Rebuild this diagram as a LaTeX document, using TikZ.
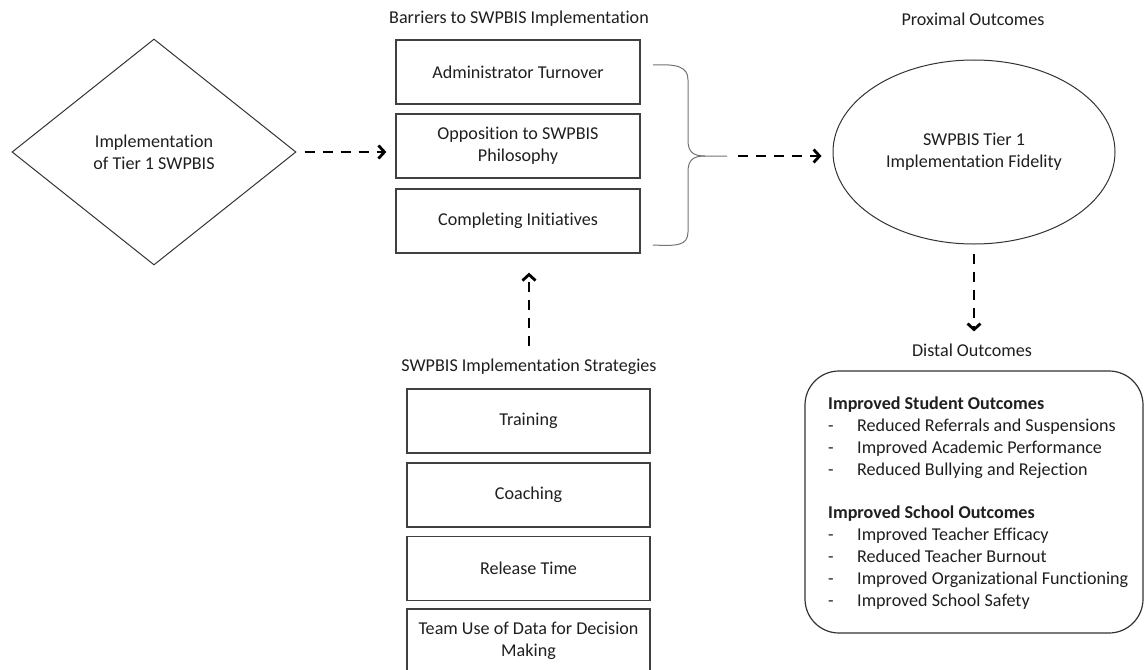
\documentclass[tikz,border=0pt]{standalone}
\usepackage{fontspec}
\setmainfont{Carlito}[Ligatures=NoCommon]
\usetikzlibrary{shapes.geometric,arrows.meta}
\begin{document}
\begin{tikzpicture}[x=1pt,y=-1pt,
  every node/.style={font=\fontsize{18.1}{21.9}\selectfont, text=black!88},
  stepbox/.style={draw=black!75, line width=1.3pt, minimum width=244pt,
    minimum height=64pt, inner sep=0pt, align=center},
  heading/.style={inner sep=0pt},
  outline/.style={draw=black!80, line width=1pt},
  flow/.style={draw=black, line width=2.8pt, dash pattern=on 10pt off 8pt,
    -{Straight Barb[length=6pt,width=13pt]}},
  brace/.style={draw=black!55, line width=1pt},
]
\clip (0,0) rectangle (1145,669);

% starting point
\node[diamond, outline, minimum width=284pt, minimum height=226pt,
  inner sep=0pt, align=center] (impl) at (154,152)
  {Implementation\\of Tier 1 SWPBIS};

% barriers column
\node[heading] (barTitle) at (519,19) {Barriers to SWPBIS Implementation};
\node[stepbox] (b1) at (518,72)  {Administrator Turnover};
\node[stepbox] (b2) at (518,146) {Opposition to SWPBIS\\Philosophy};
\node[stepbox] (b3) at (518,221) {Completing Initiatives};

% strategies column
\node[heading] (stratTitle) at (529,367) {SWPBIS Implementation Strategies};
\node[stepbox, minimum width=243pt] (s1) at (528.5,421)   {Training};
\node[stepbox, minimum width=243pt] (s2) at (528.5,495)   {Coaching};
\node[stepbox, minimum width=243pt] (s3) at (528.5,568.5) {Release Time};
\node[stepbox, minimum width=243pt] (s4) at (528.5,641)
  {Team Use of Data for Decision\\Making};

% brace grouping the barriers
\coordinate (bracetip) at (727,156);
\draw[brace] (653,65) .. controls (676,64) and (688,66) .. (688,80)
  -- (688,140) .. controls (688,152) and (693,156) .. (705,156) -- (bracetip);
\draw[brace] (705,156) .. controls (693,156) and (688,160) .. (688,172)
  -- (688,232) .. controls (688,246) and (676,246) .. (653,245);

% proximal outcome
\node[heading] (proxTitle) at (973,19) {Proximal Outcomes};
\node[ellipse, outline, minimum width=282pt, minimum height=184pt,
  inner sep=0pt, align=center] (fid) at (974,152)
  {SWPBIS Tier 1\\Implementation Fidelity};

% distal outcomes
\node[heading] (distTitle) at (972,350) {Distal Outcomes};
\node[draw=black!80, line width=1.2pt, rounded corners=34pt,
  minimum width=338pt, minimum height=262pt, inner sep=0pt] (distbox) at (974,502) {};
\node[anchor=west, align=left, inner sep=0pt] (distlist) at (828,503)
  {\textbf{Improved Student Outcomes}\\
   \makebox[29pt][l]{-}Reduced Referrals and Suspensions\\
   \makebox[29pt][l]{-}Improved Academic Performance\\
   \makebox[29pt][l]{-}Reduced Bullying and Rejection\\[21.9pt]
   \textbf{Improved School Outcomes}\\
   \makebox[29pt][l]{-}Improved Teacher Efficacy\\
   \makebox[29pt][l]{-}Reduced Teacher Burnout\\
   \makebox[29pt][l]{-}Improved Organizational Functioning\\
   \makebox[29pt][l]{-}Improved School Safety};

% connectors
\draw[flow, shorten <=8pt, shorten >=9pt] (impl.east) -- (impl.east -| b2.west);
\draw[flow, shorten <=11pt, shorten >=11pt] (bracetip) -- (bracetip -| fid.west);
\draw[flow, shorten <=13pt, shorten >=19pt] (stratTitle.north) -- (stratTitle.north |- b3.south);
\draw[flow, shorten <=9pt, shorten >=12pt] (fid.south) -- (fid.south |- distTitle.north);
\end{tikzpicture}
\end{document}
